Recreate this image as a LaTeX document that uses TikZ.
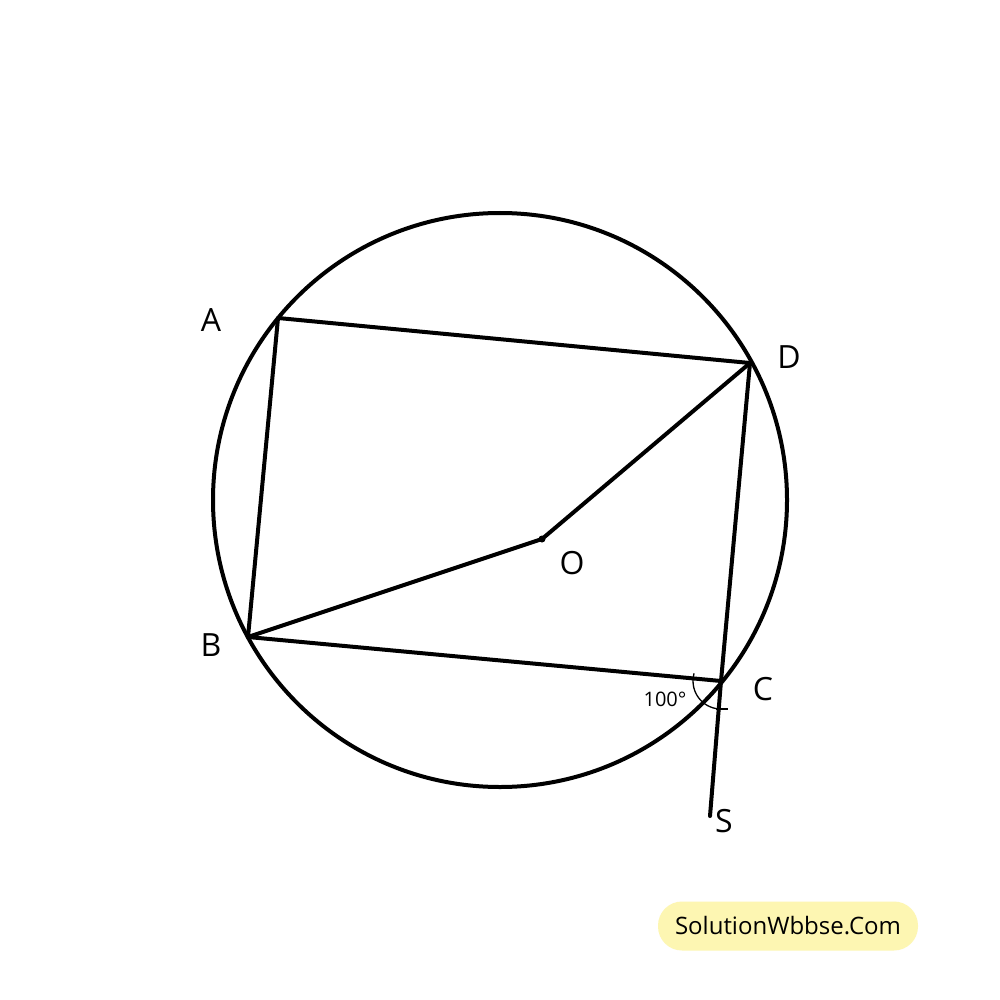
\documentclass[tikz,border=0pt]{standalone}
\usepackage{fontspec}
\setmainfont{Open Sans}
\begin{document}
\begin{tikzpicture}[x=1pt,y=-1pt,
  geo/.style={line width=4pt, line join=round, line cap=round},
  lbl/.style={font=\fontsize{32}{38}\selectfont, inner sep=0pt},
  small/.style={font=\fontsize{20}{24}\selectfont, inner sep=0pt}]
\useasboundingbox[fill=white] (0,0) rectangle (1000,1000);
\coordinate (Ctr) at (500,500);
\coordinate (A) at (278,318);
\coordinate (D) at (750,363);
\coordinate (B) at (248,637);
\coordinate (C) at (721,681);
\coordinate (O) at (542,539);
\coordinate (S) at (710,816);
\draw[geo] (Ctr) circle[radius=287];
\draw[geo] (A) -- (D) -- (C) -- (B) -- cycle;
\draw[geo] (B) -- (O) -- (D);
\draw[geo] (C) -- (S);
\fill (O) circle[radius=3.5];
\draw[line width=1.3pt] ([shift={(196:28)}]C) arc[start angle=196, end angle=88, radius=28] coordinate (T);
\draw[line width=1.3pt] ([xshift=-6]T) -- ([xshift=6]T);
\node[lbl] (lA) at (211,320) {A};
\node[lbl] (lD) at (789,357) {D};
\node[lbl] (lB) at (211,645) {B};
\node[lbl] (lC) at (763,689) {C};
\node[lbl] (lO) at (572,563) {O};
\node[lbl] (lS) at (724,821) {S};
\node[small] (ang) at (665,699) {100°};
\node[fill={rgb,255:red,253;green,246;blue,178}, rounded corners=24pt, minimum width=260pt, minimum height=49pt, font=\fontsize{24}{28}\selectfont] (wm) at (788,926) {SolutionWbbse.Com};
\end{tikzpicture}
\end{document}
